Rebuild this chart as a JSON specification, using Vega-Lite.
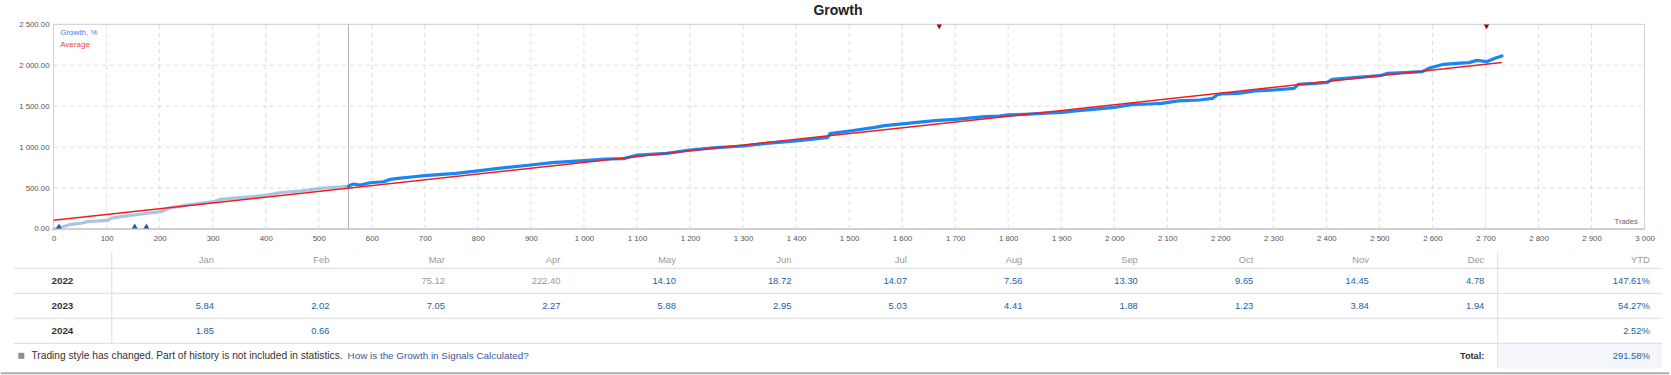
{
  "$schema": "https://vega.github.io/schema/vega-lite/v6.json",
  "width": 1671,
  "height": 375,
  "autosize": {"type": "fit", "contains": "padding"},
  "padding": 0,
  "background": "white",
  "config": {"view": {"stroke": null}, "font": "Liberation Sans", "text": {"font": "Liberation Sans"}},
  "datasets": {
    "growth": [
      {"trade": 0, "growth": 0, "phase": "before"}, {"trade": 8, "growth": 12, "phase": "before"}, {"trade": 17, "growth": 28, "phase": "before"},
      {"trade": 33, "growth": 57, "phase": "before"}, {"trade": 52, "growth": 70, "phase": "before"}, {"trade": 64, "growth": 90, "phase": "before"},
      {"trade": 102, "growth": 106, "phase": "before"}, {"trade": 108, "growth": 131, "phase": "before"}, {"trade": 127, "growth": 151, "phase": "before"},
      {"trade": 152, "growth": 171, "phase": "before"}, {"trade": 177, "growth": 192, "phase": "before"}, {"trade": 202, "growth": 212, "phase": "before"},
      {"trade": 212, "growth": 232, "phase": "before"}, {"trade": 215, "growth": 252, "phase": "before"}, {"trade": 252, "growth": 293, "phase": "before"},
      {"trade": 277, "growth": 313, "phase": "before"}, {"trade": 302, "growth": 334, "phase": "before"}, {"trade": 315, "growth": 363, "phase": "before"},
      {"trade": 340, "growth": 376, "phase": "before"}, {"trade": 378, "growth": 395, "phase": "before"}, {"trade": 403, "growth": 415, "phase": "before"},
      {"trade": 428, "growth": 444, "phase": "before"}, {"trade": 466, "growth": 464, "phase": "before"}, {"trade": 503, "growth": 497, "phase": "before"},
      {"trade": 528, "growth": 509, "phase": "before"}, {"trade": 556, "growth": 520, "phase": "before"},
      {"trade": 556, "growth": 520, "phase": "after"}, {"trade": 560, "growth": 537, "phase": "after"}, {"trade": 566, "growth": 549, "phase": "after"},
      {"trade": 578, "growth": 537, "phase": "after"}, {"trade": 597, "growth": 565, "phase": "after"}, {"trade": 622, "growth": 577, "phase": "after"},
      {"trade": 635, "growth": 606, "phase": "after"}, {"trade": 654, "growth": 622, "phase": "after"}, {"trade": 679, "growth": 638, "phase": "after"},
      {"trade": 700, "growth": 652, "phase": "after"}, {"trade": 759, "growth": 680, "phase": "after"}, {"trade": 800, "growth": 709, "phase": "after"},
      {"trade": 839, "growth": 741, "phase": "after"}, {"trade": 900, "growth": 782, "phase": "after"}, {"trade": 940, "growth": 810, "phase": "after"},
      {"trade": 1000, "growth": 835, "phase": "after"}, {"trade": 1041, "growth": 855, "phase": "after"}, {"trade": 1075, "growth": 860, "phase": "after"},
      {"trade": 1101, "growth": 904, "phase": "after"}, {"trade": 1156, "growth": 924, "phase": "after"}, {"trade": 1200, "growth": 965, "phase": "after"},
      {"trade": 1250, "growth": 994, "phase": "after"}, {"trade": 1301, "growth": 1014, "phase": "after"}, {"trade": 1344, "growth": 1046, "phase": "after"},
      {"trade": 1400, "growth": 1075, "phase": "after"}, {"trade": 1445, "growth": 1108, "phase": "after"}, {"trade": 1460, "growth": 1120, "phase": "after"},
      {"trade": 1464, "growth": 1165, "phase": "after"}, {"trade": 1501, "growth": 1197, "phase": "after"}, {"trade": 1546, "growth": 1238, "phase": "after"},
      {"trade": 1567, "growth": 1262, "phase": "after"}, {"trade": 1600, "growth": 1283, "phase": "after"}, {"trade": 1662, "growth": 1323, "phase": "after"},
      {"trade": 1700, "growth": 1340, "phase": "after"}, {"trade": 1756, "growth": 1372, "phase": "after"}, {"trade": 1783, "growth": 1380, "phase": "after"},
      {"trade": 1800, "growth": 1393, "phase": "after"}, {"trade": 1831, "growth": 1401, "phase": "after"}, {"trade": 1863, "growth": 1413, "phase": "after"},
      {"trade": 1901, "growth": 1425, "phase": "after"}, {"trade": 1927, "growth": 1441, "phase": "after"}, {"trade": 1960, "growth": 1462, "phase": "after"},
      {"trade": 2000, "growth": 1486, "phase": "after"}, {"trade": 2032, "growth": 1519, "phase": "after"}, {"trade": 2065, "growth": 1527, "phase": "after"},
      {"trade": 2089, "growth": 1535, "phase": "after"}, {"trade": 2102, "growth": 1547, "phase": "after"}, {"trade": 2121, "growth": 1564, "phase": "after"},
      {"trade": 2161, "growth": 1576, "phase": "after"}, {"trade": 2185, "growth": 1596, "phase": "after"}, {"trade": 2194, "growth": 1637, "phase": "after"},
      {"trade": 2202, "growth": 1649, "phase": "after"}, {"trade": 2234, "growth": 1657, "phase": "after"}, {"trade": 2266, "growth": 1686, "phase": "after"},
      {"trade": 2301, "growth": 1698, "phase": "after"}, {"trade": 2339, "growth": 1718, "phase": "after"}, {"trade": 2347, "growth": 1767, "phase": "after"},
      {"trade": 2379, "growth": 1779, "phase": "after"}, {"trade": 2402, "growth": 1792, "phase": "after"}, {"trade": 2411, "growth": 1828, "phase": "after"},
      {"trade": 2452, "growth": 1849, "phase": "after"}, {"trade": 2501, "growth": 1873, "phase": "after"}, {"trade": 2516, "growth": 1902, "phase": "after"},
      {"trade": 2556, "growth": 1914, "phase": "after"}, {"trade": 2581, "growth": 1922, "phase": "after"}, {"trade": 2593, "growth": 1963, "phase": "after"},
      {"trade": 2621, "growth": 2012, "phase": "after"}, {"trade": 2645, "growth": 2024, "phase": "after"}, {"trade": 2669, "growth": 2032, "phase": "after"},
      {"trade": 2684, "growth": 2060, "phase": "after"}, {"trade": 2702, "growth": 2044, "phase": "after"}, {"trade": 2718, "growth": 2085, "phase": "after"},
      {"trade": 2731, "growth": 2113, "phase": "after"}
    ],
    "average": [{"trade": 0, "avg": 107}, {"trade": 2731, "avg": 2034}],
    "deposits": [{"trade": 10}, {"trade": 153}, {"trade": 175}],
    "withdrawals": [{"trade": 1670}, {"trade": 2702}],
    "gridX": [{"t": 100}, {"t": 200}, {"t": 300}, {"t": 400}, {"t": 500}, {"t": 600}, {"t": 700}, {"t": 800}, {"t": 900}, {"t": 1000}, {"t": 1100}, {"t": 1200}, {"t": 1300}, {"t": 1400}, {"t": 1500}, {"t": 1600}, {"t": 1700}, {"t": 1800}, {"t": 1900}, {"t": 2000}, {"t": 2100}, {"t": 2200}, {"t": 2300}, {"t": 2400}, {"t": 2500}, {"t": 2600}, {"t": 2700}, {"t": 2800}, {"t": 2900}],
    "gridY": [{"g": 500}, {"g": 1000}, {"g": 1500}, {"g": 2000}],
    "months": [{"col": "Jan"}, {"col": "Feb"}, {"col": "Mar"}, {"col": "Apr"}, {"col": "May"}, {"col": "Jun"}, {"col": "Jul"}, {"col": "Aug"}, {"col": "Sep"}, {"col": "Oct"}, {"col": "Nov"}, {"col": "Dec"}],
    "monthly": [
      {"year": 2022, "month": "Mar", "value": 75.12, "counted": false}, {"year": 2022, "month": "Apr", "value": 222.40, "counted": false},
      {"year": 2022, "month": "May", "value": 14.10, "counted": true}, {"year": 2022, "month": "Jun", "value": 18.72, "counted": true},
      {"year": 2022, "month": "Jul", "value": 14.07, "counted": true}, {"year": 2022, "month": "Aug", "value": 7.56, "counted": true},
      {"year": 2022, "month": "Sep", "value": 13.30, "counted": true}, {"year": 2022, "month": "Oct", "value": 9.65, "counted": true},
      {"year": 2022, "month": "Nov", "value": 14.45, "counted": true}, {"year": 2022, "month": "Dec", "value": 4.78, "counted": true},
      {"year": 2023, "month": "Jan", "value": 5.84, "counted": true}, {"year": 2023, "month": "Feb", "value": 2.02, "counted": true},
      {"year": 2023, "month": "Mar", "value": 7.05, "counted": true}, {"year": 2023, "month": "Apr", "value": 2.27, "counted": true},
      {"year": 2023, "month": "May", "value": 5.88, "counted": true}, {"year": 2023, "month": "Jun", "value": 2.95, "counted": true},
      {"year": 2023, "month": "Jul", "value": 5.03, "counted": true}, {"year": 2023, "month": "Aug", "value": 4.41, "counted": true},
      {"year": 2023, "month": "Sep", "value": 1.88, "counted": true}, {"year": 2023, "month": "Oct", "value": 1.23, "counted": true},
      {"year": 2023, "month": "Nov", "value": 3.84, "counted": true}, {"year": 2023, "month": "Dec", "value": 1.94, "counted": true},
      {"year": 2024, "month": "Jan", "value": 1.85, "counted": true}, {"year": 2024, "month": "Feb", "value": 0.66, "counted": true}
    ],
    "yearly": [{"year": 2022, "ytd": 1.4761}, {"year": 2023, "ytd": 0.5427}, {"year": 2024, "ytd": 0.0252}],
    "total": [{"ytd": 2.9158}]
  },
  "layer": [
    {
      "layer": [
        {
          "data": {"values": [{}]},
          "mark": {"type": "rect", "fill": "white", "stroke": "#cfcfcf", "strokeWidth": 1},
          "encoding": {
            "x": {"datum": 0, "type": "quantitative", "scale": {"domain": [-99.2, 3046.1], "nice": false, "zero": false},
              "axis": {"orient": "bottom", "offset": -146, "values": [0,100,200,300,400,500,600,700,800,900,1000,1100,1200,1300,1400,1500,1600,1700,1800,1900,2000,2100,2200,2300,2400,2500,2600,2700,2800,2900,3000],
                "labelExpr": "replace(format(datum.value, ','), ',', ' ')", "grid": false, "domain": false, "ticks": false, "labelPadding": 5.5,
                "labelFontSize": 7.8, "labelColor": "#555555", "labelFont": "Liberation Sans", "labelFlush": false, "labelOverlap": false, "title": null}},
            "x2": {"datum": 3000},
            "y": {"datum": 0, "type": "quantitative", "scale": {"domain": [-1783.4, 2797.2], "nice": false, "zero": false},
              "axis": {"orient": "left", "offset": -52.7, "values": [0, 500, 1000, 1500, 2000, 2500],
                "labelExpr": "replace(format(datum.value, ',.2f'), ',', ' ')", "grid": false, "domain": false, "ticks": false, "labelPadding": 4.7,
                "labelFontSize": 7.8, "labelColor": "#555555", "labelFont": "Liberation Sans", "labelOverlap": false, "labelFlush": false, "title": null}},
            "y2": {"datum": 2500}
          }
        },
        {
          "data": {"name": "gridX"},
          "mark": {"type": "rule", "color": "#dcdcdc", "strokeWidth": 1, "strokeDash": [4, 4]},
          "encoding": {
            "x": {"field": "t", "type": "quantitative", "scale": {"domain": [-99.2, 3046.1], "nice": false, "zero": false}, "axis": {"title": null}},
            "y": {"datum": 0, "type": "quantitative", "scale": {"domain": [-1783.4, 2797.2], "nice": false, "zero": false}, "axis": {"title": null}},
            "y2": {"datum": 2500}
          }
        },
        {
          "data": {"name": "gridY"},
          "mark": {"type": "rule", "color": "#dcdcdc", "strokeWidth": 1, "strokeDash": [4, 4]},
          "encoding": {
            "y": {"field": "g", "type": "quantitative", "scale": {"domain": [-1783.4, 2797.2], "nice": false, "zero": false}, "axis": {"title": null}},
            "x": {"datum": 0, "type": "quantitative", "scale": {"domain": [-99.2, 3046.1], "nice": false, "zero": false}, "axis": {"title": null}},
            "x2": {"datum": 3000}
          }
        },
        {
          "data": {"values": [{}]},
          "mark": {"type": "rule", "color": "#d0d0d0", "strokeWidth": 2},
          "encoding": {
            "y": {"datum": 0, "type": "quantitative", "scale": {"domain": [-1783.4, 2797.2], "nice": false, "zero": false}, "axis": {"title": null}},
            "x": {"datum": 0, "type": "quantitative", "scale": {"domain": [-99.2, 3046.1], "nice": false, "zero": false}, "axis": {"title": null}},
            "x2": {"datum": 3000}
          }
        },
        {
          "data": {"values": [{}]},
          "mark": {"type": "rule", "color": "#b4b4b4", "strokeWidth": 1},
          "encoding": {
            "x": {"datum": 556, "type": "quantitative", "scale": {"domain": [-99.2, 3046.1], "nice": false, "zero": false}, "axis": {"title": null}},
            "y": {"datum": 0, "type": "quantitative", "scale": {"domain": [-1783.4, 2797.2], "nice": false, "zero": false}, "axis": {"title": null}},
            "y2": {"datum": 2500}
          }
        },
        {
          "data": {"name": "growth"},
          "mark": {"type": "line", "strokeWidth": 3.2, "strokeJoin": "round", "strokeCap": "round"},
          "encoding": {
            "x": {"field": "trade", "type": "quantitative", "scale": {"domain": [-99.2, 3046.1], "nice": false, "zero": false}, "axis": {"title": null}},
            "y": {"field": "growth", "type": "quantitative", "scale": {"domain": [-1783.4, 2797.2], "nice": false, "zero": false}, "axis": {"title": null}},
            "color": {"field": "phase", "type": "nominal", "scale": {"domain": ["before", "after"], "range": ["#aac4e4", "#1a86f5"]}, "legend": null}
          }
        },
        {
          "data": {"name": "average"},
          "mark": {"type": "line", "strokeWidth": 1.5, "color": "#f21c1c"},
          "encoding": {
            "x": {"field": "trade", "type": "quantitative", "scale": {"domain": [-99.2, 3046.1], "nice": false, "zero": false}, "axis": {"title": null}},
            "y": {"field": "avg", "type": "quantitative", "scale": {"domain": [-1783.4, 2797.2], "nice": false, "zero": false}, "axis": {"title": null}}
          }
        },
        {
          "data": {"name": "deposits"},
          "mark": {"type": "point", "shape": "triangle-up", "filled": true, "color": "#1f5f9e", "opacity": 1, "size": 34, "yOffset": -3},
          "encoding": {
            "x": {"field": "trade", "type": "quantitative", "scale": {"domain": [-99.2, 3046.1], "nice": false, "zero": false}, "axis": {"title": null}},
            "y": {"datum": 0, "type": "quantitative", "scale": {"domain": [-1783.4, 2797.2], "nice": false, "zero": false}, "axis": {"title": null}}
          }
        },
        {
          "data": {"name": "withdrawals"},
          "mark": {"type": "point", "shape": "triangle-down", "filled": true, "color": "#a80000", "opacity": 1, "size": 30, "yOffset": 2.5},
          "encoding": {
            "x": {"field": "trade", "type": "quantitative", "scale": {"domain": [-99.2, 3046.1], "nice": false, "zero": false}, "axis": {"title": null}},
            "y": {"datum": 2500, "type": "quantitative", "scale": {"domain": [-1783.4, 2797.2], "nice": false, "zero": false}, "axis": {"title": null}}
          }
        },
        {
          "data": {"values": [{}]},
          "mark": {"type": "text", "text": "Growth, %", "align": "left", "baseline": "middle", "fontSize": 8, "color": "#4a7ee0"},
          "encoding": {
            "x": {"datum": 12.4, "type": "quantitative", "scale": {"domain": [-99.2, 3046.1], "nice": false, "zero": false}, "axis": {"title": null}},
            "y": {"datum": 2390, "type": "quantitative", "scale": {"domain": [-1783.4, 2797.2], "nice": false, "zero": false}, "axis": {"title": null}}
          }
        },
        {
          "data": {"values": [{}]},
          "mark": {"type": "text", "text": "Average", "align": "left", "baseline": "middle", "fontSize": 8, "color": "#f04444"},
          "encoding": {
            "x": {"datum": 12.4, "type": "quantitative", "scale": {"domain": [-99.2, 3046.1], "nice": false, "zero": false}, "axis": {"title": null}},
            "y": {"datum": 2247, "type": "quantitative", "scale": {"domain": [-1783.4, 2797.2], "nice": false, "zero": false}, "axis": {"title": null}}
          }
        },
        {
          "data": {"values": [{}]},
          "mark": {"type": "text", "text": "Trades", "align": "right", "baseline": "middle", "fontSize": 7.5, "color": "#666666"},
          "encoding": {
            "x": {"datum": 2987, "type": "quantitative", "scale": {"domain": [-99.2, 3046.1], "nice": false, "zero": false}, "axis": {"title": null}},
            "y": {"datum": 89, "type": "quantitative", "scale": {"domain": [-1783.4, 2797.2], "nice": false, "zero": false}, "axis": {"title": null}}
          }
        },
        {
          "data": {"values": [{}]},
          "mark": {"type": "text", "text": "Growth", "align": "center", "baseline": "middle", "fontSize": 14, "fontWeight": "bold", "color": "#222222"},
          "encoding": {
            "x": {"datum": 1479, "type": "quantitative", "scale": {"domain": [-99.2, 3046.1], "nice": false, "zero": false}, "axis": {"title": null}},
            "y": {"datum": 2657, "type": "quantitative", "scale": {"domain": [-1783.4, 2797.2], "nice": false, "zero": false}, "axis": {"title": null}}
          }
        }
      ]
    },
    {
      "layer": [
        {
          "data": {"values": [{}]},
          "mark": {"type": "rect", "fill": "#f4f6fb", "x2Offset": 49},
          "encoding": {
            "x": {"datum": "YTD", "bandPosition": 0, "type": "nominal", "axis": null, "scale": {"type": "band", "domain": ["Jan","Feb","Mar","Apr","May","Jun","Jul","Aug","Sep","Oct","Nov","Dec","YTD"], "paddingInner": 0, "paddingOuter": 0.7213, "align": 0.6651}},
            "x2": {"datum": "YTD", "bandPosition": 1},
            "y": {"datum": 2024.5, "type": "quantitative", "axis": null, "scale": {"domain": [2010.768, 2025.768], "reverse": true, "nice": false, "zero": false}},
            "y2": {"datum": 2025.5}
          }
        },
        {
          "data": {"name": "yearly"},
          "mark": {"type": "rule", "color": "#dddddd", "strokeWidth": 1, "xOffset": -98.3, "x2Offset": 49, "yOffset": -12.5},
          "encoding": {
            "x": {"datum": "Jan", "bandPosition": 0, "type": "nominal", "axis": null, "scale": {"type": "band", "domain": ["Jan","Feb","Mar","Apr","May","Jun","Jul","Aug","Sep","Oct","Nov","Dec","YTD"], "paddingInner": 0, "paddingOuter": 0.7213, "align": 0.6651}},
            "x2": {"datum": "YTD", "bandPosition": 1},
            "y": {"field": "year", "type": "quantitative", "axis": null, "scale": {"domain": [2010.768, 2025.768], "reverse": true, "nice": false, "zero": false}}
          }
        },
        {
          "data": {"values": [{}]},
          "mark": {"type": "rule", "color": "#dddddd", "strokeWidth": 1, "xOffset": -98.3, "x2Offset": 49},
          "encoding": {
            "x": {"datum": "Jan", "bandPosition": 0, "type": "nominal", "axis": null, "scale": {"type": "band", "domain": ["Jan","Feb","Mar","Apr","May","Jun","Jul","Aug","Sep","Oct","Nov","Dec","YTD"], "paddingInner": 0, "paddingOuter": 0.7213, "align": 0.6651}},
            "x2": {"datum": "YTD", "bandPosition": 1},
            "y": {"datum": 2024.5, "type": "quantitative", "axis": null, "scale": {"domain": [2010.768, 2025.768], "reverse": true, "nice": false, "zero": false}}
          }
        },
        {
          "data": {"values": [{}]},
          "mark": {"type": "rule", "color": "#dddddd", "strokeWidth": 1},
          "encoding": {
            "x": {"datum": "Jan", "bandPosition": 0, "type": "nominal", "axis": null, "scale": {"type": "band", "domain": ["Jan","Feb","Mar","Apr","May","Jun","Jul","Aug","Sep","Oct","Nov","Dec","YTD"], "paddingInner": 0, "paddingOuter": 0.7213, "align": 0.6651}},
            "y": {"datum": 2020.836, "type": "quantitative", "axis": null, "scale": {"domain": [2010.768, 2025.768], "reverse": true, "nice": false, "zero": false}},
            "y2": {"datum": 2024.5}
          }
        },
        {
          "data": {"values": [{}]},
          "mark": {"type": "rule", "color": "#dddddd", "strokeWidth": 1},
          "encoding": {
            "x": {"datum": "YTD", "bandPosition": 0, "type": "nominal", "axis": null, "scale": {"type": "band", "domain": ["Jan","Feb","Mar","Apr","May","Jun","Jul","Aug","Sep","Oct","Nov","Dec","YTD"], "paddingInner": 0, "paddingOuter": 0.7213, "align": 0.6651}},
            "y": {"datum": 2020.836, "type": "quantitative", "axis": null, "scale": {"domain": [2010.768, 2025.768], "reverse": true, "nice": false, "zero": false}},
            "y2": {"datum": 2025.5}
          }
        },
        {
          "data": {"values": [{}]},
          "mark": {"type": "rule", "color": "#acacac", "strokeWidth": 2, "xOffset": -111, "x2Offset": 56},
          "encoding": {
            "x": {"datum": "Jan", "bandPosition": 0, "type": "nominal", "axis": null, "scale": {"type": "band", "domain": ["Jan","Feb","Mar","Apr","May","Jun","Jul","Aug","Sep","Oct","Nov","Dec","YTD"], "paddingInner": 0, "paddingOuter": 0.7213, "align": 0.6651}},
            "x2": {"datum": "YTD", "bandPosition": 1},
            "y": {"datum": 2025.7, "type": "quantitative", "axis": null, "scale": {"domain": [2010.768, 2025.768], "reverse": true, "nice": false, "zero": false}}
          }
        },
        {
          "data": {"name": "months"},
          "mark": {"type": "text", "align": "right", "baseline": "middle", "dx": -13.4, "fontSize": 9.4, "color": "#9a9a9a"},
          "encoding": {
            "text": {"field": "col"},
            "x": {"field": "col", "bandPosition": 1, "type": "nominal", "axis": null, "scale": {"type": "band", "domain": ["Jan","Feb","Mar","Apr","May","Jun","Jul","Aug","Sep","Oct","Nov","Dec","YTD"], "paddingInner": 0, "paddingOuter": 0.7213, "align": 0.6651}},
            "y": {"datum": 2021.168, "type": "quantitative", "axis": null, "scale": {"domain": [2010.768, 2025.768], "reverse": true, "nice": false, "zero": false}}
          }
        },
        {
          "data": {"values": [{}]},
          "mark": {"type": "text", "text": "YTD", "align": "right", "baseline": "middle", "dx": 36.6, "fontSize": 9.4, "color": "#9a9a9a"},
          "encoding": {
            "x": {"datum": "YTD", "bandPosition": 1, "type": "nominal", "axis": null, "scale": {"type": "band", "domain": ["Jan","Feb","Mar","Apr","May","Jun","Jul","Aug","Sep","Oct","Nov","Dec","YTD"], "paddingInner": 0, "paddingOuter": 0.7213, "align": 0.6651}},
            "y": {"datum": 2021.168, "type": "quantitative", "axis": null, "scale": {"domain": [2010.768, 2025.768], "reverse": true, "nice": false, "zero": false}}
          }
        },
        {
          "data": {"name": "yearly"},
          "mark": {"type": "text", "align": "left", "baseline": "middle", "dx": -60.3, "fontSize": 9.8, "fontWeight": "bold", "color": "#333333"},
          "encoding": {
            "text": {"field": "year", "format": "d"},
            "x": {"datum": "Jan", "bandPosition": 0, "type": "nominal", "axis": null, "scale": {"type": "band", "domain": ["Jan","Feb","Mar","Apr","May","Jun","Jul","Aug","Sep","Oct","Nov","Dec","YTD"], "paddingInner": 0, "paddingOuter": 0.7213, "align": 0.6651}},
            "y": {"field": "year", "type": "quantitative", "axis": null, "scale": {"domain": [2010.768, 2025.768], "reverse": true, "nice": false, "zero": false}}
          }
        },
        {
          "data": {"name": "monthly"},
          "mark": {"type": "text", "align": "right", "baseline": "middle", "dx": -13.4, "fontSize": 9.4},
          "encoding": {
            "text": {"field": "value", "format": ".2f"},
            "color": {"condition": {"test": "datum.counted === false", "value": "#999999"}, "value": "#1d5fa8"},
            "x": {"field": "month", "bandPosition": 1, "type": "nominal", "axis": null, "scale": {"type": "band", "domain": ["Jan","Feb","Mar","Apr","May","Jun","Jul","Aug","Sep","Oct","Nov","Dec","YTD"], "paddingInner": 0, "paddingOuter": 0.7213, "align": 0.6651}},
            "y": {"field": "year", "type": "quantitative", "axis": null, "scale": {"domain": [2010.768, 2025.768], "reverse": true, "nice": false, "zero": false}}
          }
        },
        {
          "data": {"name": "yearly"},
          "mark": {"type": "text", "align": "right", "baseline": "middle", "dx": 36.6, "fontSize": 9.4, "color": "#1d5fa8"},
          "encoding": {
            "text": {"field": "ytd", "format": ".2%"},
            "x": {"datum": "YTD", "bandPosition": 1, "type": "nominal", "axis": null, "scale": {"type": "band", "domain": ["Jan","Feb","Mar","Apr","May","Jun","Jul","Aug","Sep","Oct","Nov","Dec","YTD"], "paddingInner": 0, "paddingOuter": 0.7213, "align": 0.6651}},
            "y": {"field": "year", "type": "quantitative", "axis": null, "scale": {"domain": [2010.768, 2025.768], "reverse": true, "nice": false, "zero": false}}
          }
        },
        {
          "data": {"name": "total"},
          "mark": {"type": "text", "align": "right", "baseline": "middle", "dx": 36.6, "fontSize": 9.4, "color": "#1d5fa8"},
          "encoding": {
            "text": {"field": "ytd", "format": ".2%"},
            "x": {"datum": "YTD", "bandPosition": 1, "type": "nominal", "axis": null, "scale": {"type": "band", "domain": ["Jan","Feb","Mar","Apr","May","Jun","Jul","Aug","Sep","Oct","Nov","Dec","YTD"], "paddingInner": 0, "paddingOuter": 0.7213, "align": 0.6651}},
            "y": {"datum": 2025, "type": "quantitative", "axis": null, "scale": {"domain": [2010.768, 2025.768], "reverse": true, "nice": false, "zero": false}}
          }
        },
        {
          "data": {"values": [{}]},
          "mark": {"type": "text", "text": "Total:", "align": "right", "baseline": "middle", "dx": -13.4, "fontSize": 9.2, "fontWeight": "bold", "color": "#333333"},
          "encoding": {
            "x": {"datum": "Dec", "bandPosition": 1, "type": "nominal", "axis": null, "scale": {"type": "band", "domain": ["Jan","Feb","Mar","Apr","May","Jun","Jul","Aug","Sep","Oct","Nov","Dec","YTD"], "paddingInner": 0, "paddingOuter": 0.7213, "align": 0.6651}},
            "y": {"datum": 2025, "type": "quantitative", "axis": null, "scale": {"domain": [2010.768, 2025.768], "reverse": true, "nice": false, "zero": false}}
          }
        },
        {
          "data": {"values": [{}]},
          "mark": {"type": "point", "shape": "square", "filled": true, "color": "#8f8f8f", "opacity": 1, "size": 36, "xOffset": -90.5},
          "encoding": {
            "x": {"datum": "Jan", "bandPosition": 0, "type": "nominal", "axis": null, "scale": {"type": "band", "domain": ["Jan","Feb","Mar","Apr","May","Jun","Jul","Aug","Sep","Oct","Nov","Dec","YTD"], "paddingInner": 0, "paddingOuter": 0.7213, "align": 0.6651}},
            "y": {"datum": 2025, "type": "quantitative", "axis": null, "scale": {"domain": [2010.768, 2025.768], "reverse": true, "nice": false, "zero": false}}
          }
        },
        {
          "data": {"values": [{}]},
          "mark": {"type": "text", "text": "Trading style has changed. Part of history is not included in statistics.", "align": "left", "baseline": "middle", "dx": -80.3, "fontSize": 10.2, "color": "#333333"},
          "encoding": {
            "x": {"datum": "Jan", "bandPosition": 0, "type": "nominal", "axis": null, "scale": {"type": "band", "domain": ["Jan","Feb","Mar","Apr","May","Jun","Jul","Aug","Sep","Oct","Nov","Dec","YTD"], "paddingInner": 0, "paddingOuter": 0.7213, "align": 0.6651}},
            "y": {"datum": 2025, "type": "quantitative", "axis": null, "scale": {"domain": [2010.768, 2025.768], "reverse": true, "nice": false, "zero": false}}
          }
        },
        {
          "data": {"values": [{}]},
          "mark": {"type": "text", "text": "How is the Growth in Signals Calculated?", "align": "left", "baseline": "middle", "dx": 235.7, "fontSize": 9.9, "color": "#3a5a9c"},
          "encoding": {
            "x": {"datum": "Jan", "bandPosition": 0, "type": "nominal", "axis": null, "scale": {"type": "band", "domain": ["Jan","Feb","Mar","Apr","May","Jun","Jul","Aug","Sep","Oct","Nov","Dec","YTD"], "paddingInner": 0, "paddingOuter": 0.7213, "align": 0.6651}},
            "y": {"datum": 2025, "type": "quantitative", "axis": null, "scale": {"domain": [2010.768, 2025.768], "reverse": true, "nice": false, "zero": false}}
          }
        }
      ]
    }
  ],
  "resolve": {"scale": {"x": "independent", "y": "independent", "color": "independent"}, "axis": {"x": "independent", "y": "independent"}}
}
